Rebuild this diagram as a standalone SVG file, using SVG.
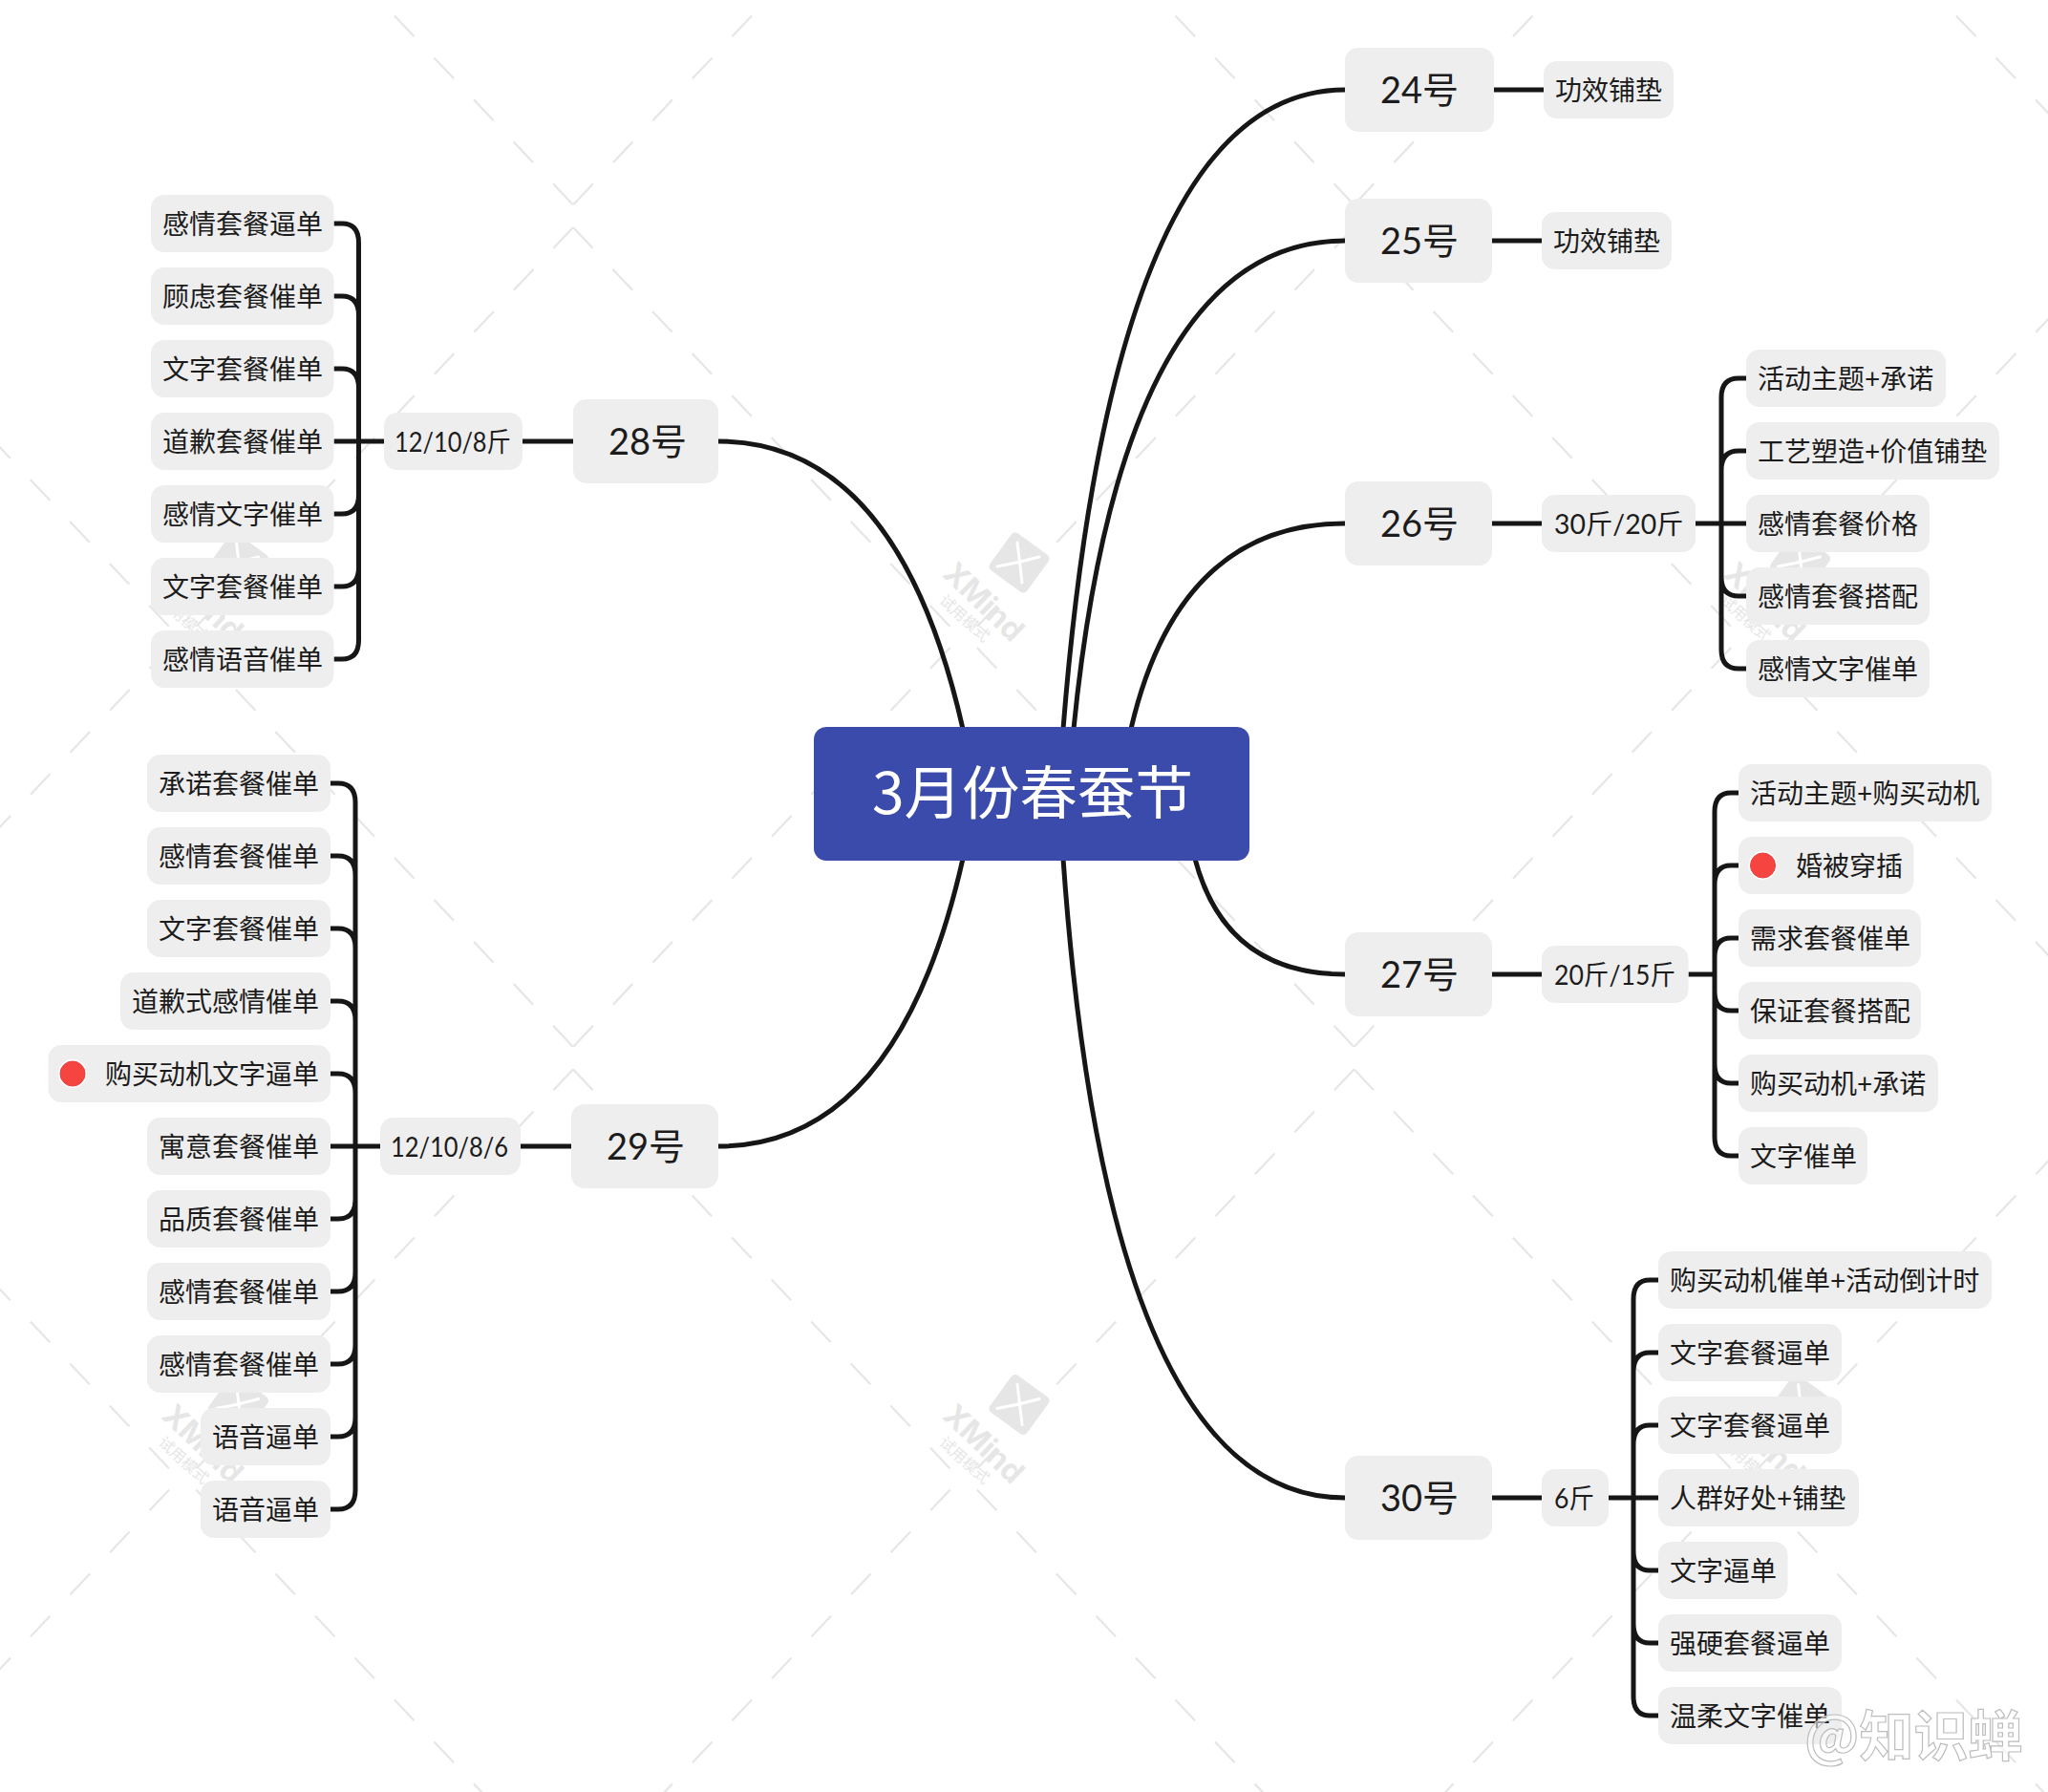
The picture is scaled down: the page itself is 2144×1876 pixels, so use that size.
<svg xmlns="http://www.w3.org/2000/svg" width="2144" height="1876" viewBox="0 0 2144 1876">
<style>
text{font-family:"Lato","Noto Sans CJK SC",sans-serif;fill:#1c1c1c}
.l1 rect,.l2 rect{fill:#eeeeee}
.l1 text{font-size:38px;transform:translateY(1px)}
.l2 text{font-size:28px;font-weight:400;transform:translateY(1px)}
.dot{fill:#f64540;stroke:#e8403b;stroke-width:1}
.ring{fill:#ffffff}
.c{fill:none;stroke:#161616;stroke-width:5;stroke-linecap:butt}
.wl{fill:none;stroke:#e6e6e6;stroke-width:2.200;stroke-dasharray:30 30.5}
.wm text{fill:#e6e6e6}
</style>
<defs>
<path id="dia" class="wl" d="M0 -429L405 0L0 429M0 -429L-405 0L0 429"/>
<g id="logo" class="wm">
<rect x="-24" y="-24" width="48" height="48" rx="5" fill="#e6e6e6" transform="rotate(36)"/>
<path d="M-2 -21Q0 -5 3 21M-23 4Q0 0 21 -6" fill="none" stroke="#ffffff" stroke-width="3" stroke-linecap="round"/>
<text transform="translate(-37 41) rotate(44)" text-anchor="middle" y="11" style="font-family:Inter,sans-serif;font-size:32px;font-weight:700">XMind</text>
<text transform="translate(-57 58) rotate(42)" text-anchor="middle" y="6" style="font-family:'Noto Sans CJK SC',sans-serif;font-size:16px">试用模式</text>
</g>
</defs>
<rect width="2144" height="1876" fill="#ffffff"/>
<g id="watermark">
<use href="#dia" x="-217.5" y="-214.5"/><use href="#dia" x="600" y="-214.5"/><use href="#dia" x="1417.5" y="-214.5"/><use href="#dia" x="2235" y="-214.5"/>
<use href="#dia" x="-217.5" y="667"/><use href="#dia" x="600" y="667"/><use href="#dia" x="1417.5" y="667"/><use href="#dia" x="2235" y="667"/>
<use href="#dia" x="-217.5" y="1548.5"/><use href="#dia" x="600" y="1548.5"/><use href="#dia" x="1417.5" y="1548.5"/><use href="#dia" x="2235" y="1548.5"/>
<use href="#logo" x="249.5" y="589"/><use href="#logo" x="1067" y="589"/><use href="#logo" x="1884.5" y="589"/>
<use href="#logo" x="249.5" y="1470.5"/><use href="#logo" x="1067" y="1470.5"/><use href="#logo" x="1884.5" y="1470.5"/>
</g>
<g id="connectors">
<path class="c" d="M1113 763Q1166 94 1408 94"/>
<path class="c" d="M1124 763Q1175 252 1408 252"/>
<path class="c" d="M1184 763Q1234 548 1408 548"/>
<path class="c" d="M1251 899Q1283 1020 1408 1020"/>
<path class="c" d="M1113 899Q1160 1568 1408 1568"/>
<path class="c" d="M1008 763Q940 462 752 462"/>
<path class="c" d="M1008 899Q940 1200 752 1200"/>
<path class="c" d="M1564 94H1616M1562 252H1614M1562 548H1614M1562 1020H1614M1562 1568H1614M600 462H547M598 1200H545"/>
<path class="c" d="M402 462H349.5M375.5 254V670M349.5 234H358Q375.5 234 375.5 254M349.5 310H358Q375.5 310 375.5 330M349.5 386H358Q375.5 386 375.5 406M349.5 538H358Q375.5 538 375.5 518M349.5 614H358Q375.5 614 375.5 594M349.5 690H358Q375.5 690 375.5 670"/>
<path class="c" d="M398 1200H346M372 840V1560M346 820H354Q372 820 372 840M346 896H354Q372 896 372 916M346 972H354Q372 972 372 992M346 1048H354Q372 1048 372 1068M346 1124H354Q372 1124 372 1144M346 1276H354Q372 1276 372 1256M346 1352H354Q372 1352 372 1332M346 1428H354Q372 1428 372 1408M346 1504H354Q372 1504 372 1484M346 1580H354Q372 1580 372 1560"/>
<path class="c" d="M1775 548H1828M1802 416V680M1828 396H1820Q1802 396 1802 416M1828 472H1820Q1802 472 1802 492M1828 624H1820Q1802 624 1802 604M1828 700H1820Q1802 700 1802 680"/>
<path class="c" d="M1767.5 1020H1795M1795 850V1190M1820 830H1812Q1795 830 1795 850M1820 906H1812Q1795 906 1795 926M1820 982H1812Q1795 982 1795 1002M1820 1058H1812Q1795 1058 1795 1038M1820 1134H1812Q1795 1134 1795 1114M1820 1210H1812Q1795 1210 1795 1190"/>
<path class="c" d="M1684 1568H1736M1710 1360V1776M1736 1340H1727Q1710 1340 1710 1360M1736 1416H1727Q1710 1416 1710 1436M1736 1492H1727Q1710 1492 1710 1512M1736 1644H1727Q1710 1644 1710 1624M1736 1720H1727Q1710 1720 1710 1700M1736 1796H1727Q1710 1796 1710 1776"/>
</g>
<g id="center"><rect x="852" y="761" width="456" height="140" rx="13" fill="#3a4bab"/><text x="1081" y="852" text-anchor="middle" style="font-family:'Noto Sans CJK SC',sans-serif;font-size:60.5px;fill:#ffffff">3月份春蚕节</text></g>
<g id="n24" class="l1"><rect x="1408" y="50" width="156" height="88" rx="14"/><text x="1445" y="107">24号</text></g>
<g id="n25" class="l1"><rect x="1408" y="208" width="154" height="88" rx="14"/><text x="1445" y="265">25号</text></g>
<g id="n26" class="l1"><rect x="1408" y="504" width="154" height="88" rx="14"/><text x="1445" y="561">26号</text></g>
<g id="n27" class="l1"><rect x="1408" y="976" width="154" height="88" rx="14"/><text x="1445" y="1033">27号</text></g>
<g id="n30" class="l1"><rect x="1408" y="1524" width="154" height="88" rx="14"/><text x="1445" y="1581">30号</text></g>
<g id="n28" class="l1"><rect x="600" y="418" width="152" height="88" rx="14"/><text x="637" y="475">28号</text></g>
<g id="n29" class="l1"><rect x="598" y="1156" width="154" height="88" rx="14"/><text x="635" y="1213">29号</text></g>
<g id="n24a" class="l2"><rect x="1616" y="64" width="136" height="60" rx="14"/><text x="1628" y="104">功效铺垫</text></g>
<g id="n25a" class="l2"><rect x="1614" y="222" width="136" height="60" rx="14"/><text x="1626" y="262">功效铺垫</text></g>
<g id="n26a" class="l2"><rect x="1614" y="518" width="161" height="60" rx="14"/><text x="1627" y="558" textLength="135.500" lengthAdjust="spacingAndGlyphs">30斤/20斤</text></g>
<g id="n26b" class="l2"><rect x="1828" y="366" width="209" height="60" rx="14"/><text x="1840" y="406">活动主题+承诺</text></g>
<g id="n26c" class="l2"><rect x="1828" y="442" width="265" height="60" rx="14"/><text x="1840" y="482">工艺塑造+价值铺垫</text></g>
<g id="n26d" class="l2"><rect x="1828" y="518" width="192" height="60" rx="14"/><text x="1840" y="558">感情套餐价格</text></g>
<g id="n26e" class="l2"><rect x="1828" y="594" width="192" height="60" rx="14"/><text x="1840" y="634">感情套餐搭配</text></g>
<g id="n26f" class="l2"><rect x="1828" y="670" width="192" height="60" rx="14"/><text x="1840" y="710">感情文字催单</text></g>
<g id="n27a" class="l2"><rect x="1614" y="990" width="153.500" height="60" rx="14"/><text x="1627" y="1030" textLength="127" lengthAdjust="spacingAndGlyphs">20斤/15斤</text></g>
<g id="n27b" class="l2"><rect x="1820" y="800" width="265" height="60" rx="14"/><text x="1832" y="840">活动主题+购买动机</text></g>
<g id="n27c" class="l2"><rect x="1820" y="876" width="183.500" height="60" rx="14"/><circle class="ring" cx="1845.500" cy="906" r="15"/><circle class="dot" cx="1845.500" cy="906" r="13"/><text x="1880" y="916">婚被穿插</text></g>
<g id="n27d" class="l2"><rect x="1820" y="952" width="191" height="60" rx="14"/><text x="1832" y="992">需求套餐催单</text></g>
<g id="n27e" class="l2"><rect x="1820" y="1028" width="191" height="60" rx="14"/><text x="1832" y="1068">保证套餐搭配</text></g>
<g id="n27f" class="l2"><rect x="1820" y="1104" width="209" height="60" rx="14"/><text x="1832" y="1144">购买动机+承诺</text></g>
<g id="n27g" class="l2"><rect x="1820" y="1180" width="135" height="60" rx="14"/><text x="1832" y="1220">文字催单</text></g>
<g id="n30a" class="l2"><rect x="1614" y="1538" width="70" height="60" rx="14"/><text x="1627" y="1578" textLength="42" lengthAdjust="spacingAndGlyphs">6斤</text></g>
<g id="n30b" class="l2"><rect x="1736" y="1310" width="349" height="60" rx="14"/><text x="1748" y="1350">购买动机催单+活动倒计时</text></g>
<g id="n30c" class="l2"><rect x="1736" y="1386" width="192" height="60" rx="14"/><text x="1748" y="1426">文字套餐逼单</text></g>
<g id="n30d" class="l2"><rect x="1736" y="1462" width="192" height="60" rx="14"/><text x="1748" y="1502">文字套餐逼单</text></g>
<g id="n30e" class="l2"><rect x="1736" y="1538" width="210" height="60" rx="14"/><text x="1748" y="1578">人群好处+铺垫</text></g>
<g id="n30f" class="l2"><rect x="1736" y="1614" width="135.500" height="60" rx="14"/><text x="1748" y="1654">文字逼单</text></g>
<g id="n30g" class="l2"><rect x="1736" y="1690" width="192" height="60" rx="14"/><text x="1748" y="1730">强硬套餐逼单</text></g>
<g id="n30h" class="l2"><rect x="1736" y="1766" width="192" height="60" rx="14"/><text x="1748" y="1806">温柔文字催单</text></g>
<g id="n28a" class="l2"><rect x="402" y="432" width="145" height="60" rx="14"/><text x="413" y="472" textLength="122" lengthAdjust="spacingAndGlyphs">12/10/8斤</text></g>
<g id="n28b" class="l2"><rect x="158" y="204" width="191.500" height="60" rx="14"/><text x="170" y="244">感情套餐逼单</text></g>
<g id="n28c" class="l2"><rect x="158" y="280" width="191.500" height="60" rx="14"/><text x="170" y="320">顾虑套餐催单</text></g>
<g id="n28d" class="l2"><rect x="158" y="356" width="191.500" height="60" rx="14"/><text x="170" y="396">文字套餐催单</text></g>
<g id="n28e" class="l2"><rect x="158" y="432" width="191.500" height="60" rx="14"/><text x="170" y="472">道歉套餐催单</text></g>
<g id="n28f" class="l2"><rect x="158" y="508" width="191.500" height="60" rx="14"/><text x="170" y="548">感情文字催单</text></g>
<g id="n28g" class="l2"><rect x="158" y="584" width="191.500" height="60" rx="14"/><text x="170" y="624">文字套餐催单</text></g>
<g id="n28h" class="l2"><rect x="158" y="660" width="191.500" height="60" rx="14"/><text x="170" y="700">感情语音催单</text></g>
<g id="n29a" class="l2"><rect x="398" y="1170" width="147" height="60" rx="14"/><text x="409" y="1210" textLength="123" lengthAdjust="spacingAndGlyphs">12/10/8/6</text></g>
<g id="n29b" class="l2"><rect x="154" y="790" width="192" height="60" rx="14"/><text x="166" y="830">承诺套餐催单</text></g>
<g id="n29c" class="l2"><rect x="154" y="866" width="192" height="60" rx="14"/><text x="166" y="906">感情套餐催单</text></g>
<g id="n29d" class="l2"><rect x="154" y="942" width="192" height="60" rx="14"/><text x="166" y="982">文字套餐催单</text></g>
<g id="n29e" class="l2"><rect x="126" y="1018" width="220" height="60" rx="14"/><text x="138" y="1058">道歉式感情催单</text></g>
<g id="n29f" class="l2"><rect x="50.500" y="1094" width="295.500" height="60" rx="14"/><circle class="ring" cx="76" cy="1124" r="15"/><circle class="dot" cx="76" cy="1124" r="13"/><text x="110" y="1134">购买动机文字逼单</text></g>
<g id="n29g" class="l2"><rect x="154" y="1170" width="192" height="60" rx="14"/><text x="166" y="1210">寓意套餐催单</text></g>
<g id="n29h" class="l2"><rect x="154" y="1246" width="192" height="60" rx="14"/><text x="166" y="1286">品质套餐催单</text></g>
<g id="n29i" class="l2"><rect x="154" y="1322" width="192" height="60" rx="14"/><text x="166" y="1362">感情套餐催单</text></g>
<g id="n29j" class="l2"><rect x="154" y="1398" width="192" height="60" rx="14"/><text x="166" y="1438">感情套餐催单</text></g>
<g id="n29k" class="l2"><rect x="210" y="1474" width="136" height="60" rx="14"/><text x="222" y="1514">语音逼单</text></g>
<g id="n29l" class="l2"><rect x="210" y="1550" width="136" height="60" rx="14"/><text x="222" y="1590">语音逼单</text></g>
<text id="credit" x="1889" y="1838" style="font-family:'Noto Sans CJK SC',sans-serif;font-size:57px;font-weight:700;fill:#ffffff;fill-opacity:.55;stroke:#bdbdbd;stroke-width:1.200">@知识蝉</text>
</svg>
